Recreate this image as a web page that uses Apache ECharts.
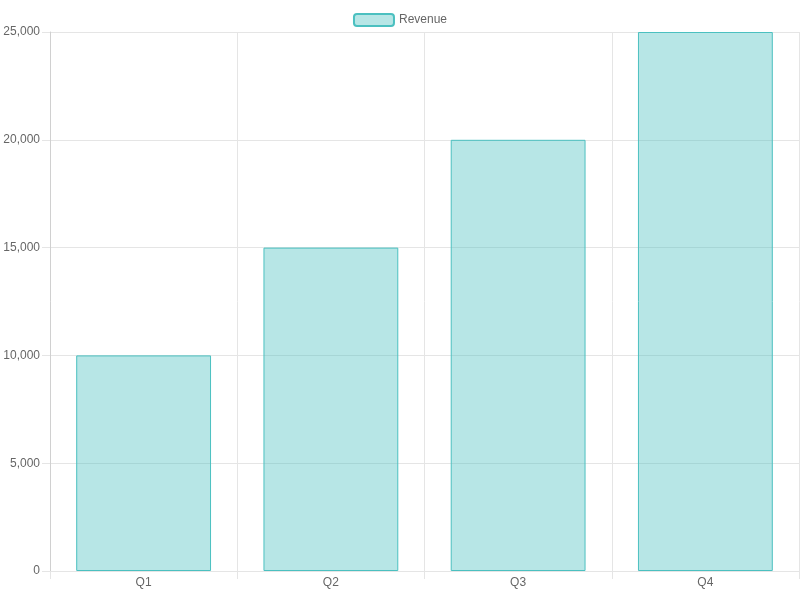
<!DOCTYPE html>
<html><head><meta charset="utf-8">
<script src="https://cdn.jsdelivr.net/npm/echarts@6/dist/echarts.min.js"></script>
<style>html,body{margin:0;padding:0;background:#fff}#c{width:800px;height:600px}</style>
</head><body><div id="c"></div>
<script>
const categories = ['Q1','Q2','Q3','Q4'];
const revenue = [10000,15000,20000,25000];
const yTicks = [0,5000,10000,15000,20000,25000];
const chart = echarts.init(document.getElementById('c'));
const font = {fontFamily:'Liberation Sans, Arial, sans-serif', fontSize:12, color:'#666'};
chart.setOption({
  animation:false,
  textStyle:{fontFamily:'Liberation Sans, Arial, sans-serif'},
  legend:{top:8,left:'center',itemWidth:40,itemHeight:12,itemGap:10,
    textStyle:font, data:['Revenue']},
  grid:{left:50,right:1,top:32,bottom:29},
  xAxis:{type:'category',data:categories,boundaryGap:true,
    axisLine:{lineStyle:{color:'#e5e5e5'}},
    axisTick:{show:true,length:8,lineStyle:{color:'#e5e5e5'}},
    splitLine:{show:true,lineStyle:{color:'#e5e5e5'}},
    axisLabel:Object.assign({margin:6},font)},
  yAxis:{type:'value',min:yTicks[0],max:yTicks[yTicks.length-1],interval:5000,
    axisLine:{show:true,lineStyle:{color:'#d0d0d0'}},
    axisTick:{show:true,length:8,lineStyle:{color:'#e5e5e5'}},
    splitLine:{show:true,lineStyle:{color:'#e5e5e5'}},
    axisLabel:Object.assign({margin:10,formatter:v=>v.toLocaleString('en-US')},font)},
  series:[{name:'Revenue',type:'bar',data:revenue,barWidth:'72%',
    itemStyle:{color:'rgba(75,192,192,0.4)',borderColor:'rgb(75,192,192)',borderWidth:1}}]
});
</script></body></html>
